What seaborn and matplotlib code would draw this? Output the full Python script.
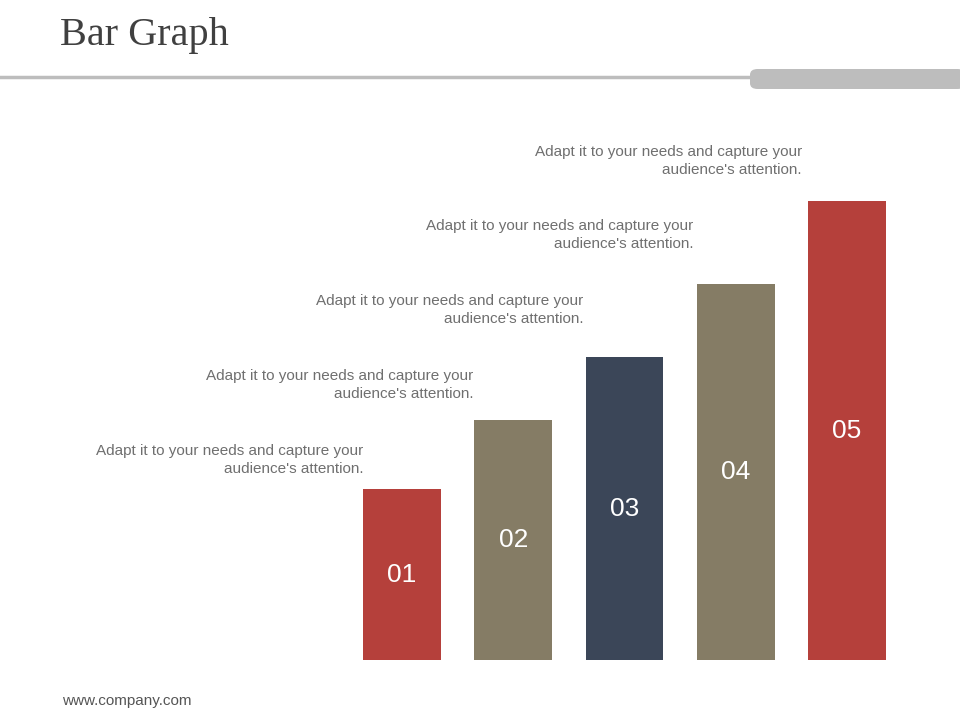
import matplotlib
matplotlib.use("Agg")
import matplotlib.pyplot as plt
import seaborn as sns
import pandas as pd
from matplotlib.patches import FancyBboxPatch

labels = ["01", "02", "03", "04", "05"]
values = [171, 240, 303, 376, 459]
colors = ["#b5403b", "#857c65", "#3b4658", "#857c65", "#b5403b"]
caption = "Adapt it to your needs and capture your\naudience's attention."

W, H = 960, 720
fig = plt.figure(figsize=(9.6, 7.2), dpi=100)
fig.patch.set_facecolor("white")

# Header
fig.text(60/W, 1-35/H, "Bar Graph", fontsize=29, family="Liberation Serif",
         color="#404040", va="center", ha="left")
fig.add_artist(plt.Line2D([0, 752/W], [1-77/H, 1-77/H], color="#bdbdbd", lw=2.5))
fig.add_artist(FancyBboxPatch((750/W, 1-89/H), 215/W, 20/H,
                              boxstyle="round,pad=0,rounding_size=0.008",
                              fc="#bdbdbd", ec="none", transform=fig.transFigure))
fig.text(62/W, 1-701/H, "www.company.com", fontsize=11, family="Liberation Sans",
         color="#555555", va="center")

# Bars
ax = fig.add_axes([363/W, 60/H, 523/W, 459/H])
df = pd.DataFrame({"label": labels, "value": values})
sns.barplot(data=df, x="label", y="value", hue="label", palette=colors,
            width=0.7, legend=False, ax=ax, saturation=1)
ax.set_xlim(-0.35, 4.35)
ax.set_ylim(0, max(values))
ax.axis("off")
for i, (l, v) in enumerate(zip(labels, values)):
    ax.text(i, v/2, l, color="white", fontsize=19, family="Liberation Sans",
            ha="center", va="center")

# Captions (right aligned, text block position per bar)
cap_right = [363, 473, 583, 693, 802]
cap_top = [444, 369, 294, 219, 145]
for r, t in zip(cap_right, cap_top):
    fig.text(r/W, 1-t/H, caption, fontsize=11, family="Liberation Sans",
             color="#6f6f6f", ha="right", va="top", linespacing=1.35, multialignment="right")

fig.savefig("out.png", dpi=100)
